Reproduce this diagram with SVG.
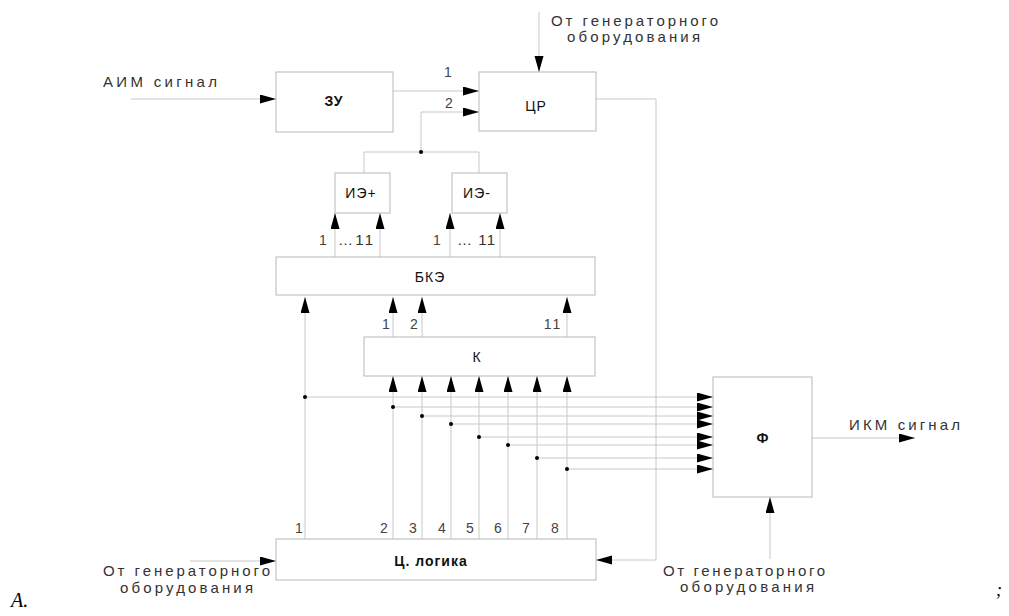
<svg xmlns="http://www.w3.org/2000/svg" width="1009" height="616" viewBox="0 0 1009 616">
<style>
.box{fill:#fff;stroke:#b8b8b8;stroke-width:1}
.ln{fill:none;stroke:#c8c8c8;stroke-width:1}
.arr{fill:none;stroke:#c8c8c8;stroke-width:1;marker-end:url(#ah)}
.t{font-family:"Liberation Sans",Arial,sans-serif;font-size:15px;fill:#333}
.lbl{font-family:"Liberation Sans",Arial,sans-serif;font-size:14px;fill:#111;text-anchor:middle;dominant-baseline:central;letter-spacing:1px}
.num{font-family:"Liberation Sans",Arial,sans-serif;font-size:14px;fill:#444;text-anchor:middle}
.dot{fill:#000}
</style>
<defs>
<marker id="ah" markerUnits="userSpaceOnUse" markerWidth="17" markerHeight="10" refX="16" refY="4.5" orient="auto">
<path d="M0,0 L16,4.5 L0,9 z" fill="#000"/>
</marker>
</defs>
<rect width="1009" height="616" fill="#fff"/>

<g id="connectors">
<line class="arr" x1="131" y1="99" x2="276" y2="99"/>
<line class="arr" x1="393" y1="91" x2="479" y2="91"/>
<line class="arr" x1="539" y1="12" x2="539" y2="72"/>
<polyline class="arr" points="421,152 421,112 479,112"/>
<polyline class="ln" points="364,173 364,152 479,152 479,173"/>
<circle class="dot" cx="421" cy="152" r="2"/>
<line class="arr" x1="335" y1="257" x2="335" y2="213"/>
<line class="arr" x1="380" y1="257" x2="380" y2="213"/>
<line class="arr" x1="450" y1="257" x2="450" y2="213"/>
<line class="arr" x1="500" y1="257" x2="500" y2="213"/>
<line class="arr" x1="393" y1="337" x2="393" y2="297"/>
<line class="arr" x1="422" y1="337" x2="422" y2="297"/>
<line class="arr" x1="567" y1="337" x2="567" y2="297"/>
<line class="arr" x1="305" y1="539" x2="305" y2="297"/>
<line class="arr" x1="393" y1="539" x2="393" y2="376"/>
<line class="arr" x1="422" y1="539" x2="422" y2="376"/>
<line class="arr" x1="451" y1="539" x2="451" y2="376"/>
<line class="arr" x1="479" y1="539" x2="479" y2="376"/>
<line class="arr" x1="508" y1="539" x2="508" y2="376"/>
<line class="arr" x1="537" y1="539" x2="537" y2="376"/>
<line class="arr" x1="567" y1="539" x2="567" y2="376"/>
<line class="arr" x1="305" y1="397" x2="713" y2="397"/>
<line class="arr" x1="393" y1="407" x2="713" y2="407"/>
<line class="arr" x1="422" y1="416" x2="713" y2="416"/>
<line class="arr" x1="451" y1="424" x2="713" y2="424"/>
<line class="arr" x1="479" y1="437" x2="713" y2="437"/>
<line class="arr" x1="508" y1="445" x2="713" y2="445"/>
<line class="arr" x1="537" y1="458" x2="713" y2="458"/>
<line class="arr" x1="567" y1="469" x2="713" y2="469"/>
<circle class="dot" cx="305" cy="397" r="2"/>
<circle class="dot" cx="393" cy="407" r="2"/>
<circle class="dot" cx="422" cy="416" r="2"/>
<circle class="dot" cx="451" cy="424" r="2"/>
<circle class="dot" cx="479" cy="437" r="2"/>
<circle class="dot" cx="508" cy="445" r="2"/>
<circle class="dot" cx="537" cy="458" r="2"/>
<circle class="dot" cx="567" cy="469" r="2"/>
<polyline class="arr" points="596,99 656,99 656,560 596,560"/>
<line class="arr" x1="812" y1="438" x2="915" y2="438"/>
<line class="arr" x1="770" y1="559" x2="770" y2="497"/>
<line class="arr" x1="190" y1="561" x2="276" y2="561"/>
</g>

<g id="zu"><rect class="box" x="276" y="72" width="117" height="60"/><text class="lbl" x="334" y="101" font-weight="bold">ЗУ</text></g>
<g id="cr"><rect class="box" x="479" y="72" width="117" height="59"/><text class="lbl" x="536" y="106" font-size="15">ЦР</text></g>
<g id="ie-plus"><rect class="box" x="335" y="173" width="55" height="40"/><text class="lbl" x="361" y="193">ИЭ+</text></g>
<g id="ie-minus"><rect class="box" x="452" y="173" width="55" height="40"/><text class="lbl" x="477" y="193">ИЭ-</text></g>
<g id="bke"><rect class="box" x="276" y="257" width="319" height="38"/><text class="lbl" x="430" y="277">БКЭ</text></g>
<g id="k"><rect class="box" x="364" y="337" width="231" height="39"/><text class="lbl" x="477" y="357">К</text></g>
<g id="f"><rect class="box" x="713" y="377" width="99" height="120"/><text class="lbl" x="763" y="438" font-weight="bold">Ф</text></g>
<g id="logic"><rect class="box" x="276" y="539" width="320" height="41"/><text class="lbl" x="431" y="561" font-weight="bold" font-size="17" letter-spacing="1.5">Ц. логика</text></g>

<g id="labels">
<text class="t" x="103" y="87" textLength="114" lengthAdjust="spacing">АИМ сигнал</text>
<text class="num" x="448" y="77">1</text>
<text class="num" x="449" y="108">2</text>
<text class="t" x="551" y="26" font-size="14" textLength="167" lengthAdjust="spacing">От генераторного</text>
<text class="t" x="567" y="42" font-size="14" textLength="133" lengthAdjust="spacing">оборудования</text>
<text class="num" x="323" y="245">1</text>
<text class="t" x="338" y="245" font-size="14" textLength="35" lengthAdjust="spacing">…11</text>
<text class="num" x="437" y="245">1</text>
<text class="t" x="457" y="245" font-size="14" textLength="38" lengthAdjust="spacing">… 11</text>
<text class="num" x="386" y="329">1</text>
<text class="num" x="414" y="329">2</text>
<text class="num" x="553" y="329" letter-spacing="2">11</text>
<text class="t" x="849" y="430" textLength="111" lengthAdjust="spacing">ИКМ сигнал</text>
<text class="num" x="299" y="533">1</text>
<text class="num" x="384" y="533">2</text>
<text class="num" x="413" y="533">3</text>
<text class="num" x="442" y="533">4</text>
<text class="num" x="470" y="533">5</text>
<text class="num" x="498" y="533">6</text>
<text class="num" x="526" y="533">7</text>
<text class="num" x="555" y="533">8</text>
<text class="t" x="103" y="576" textLength="167" lengthAdjust="spacing">От генераторного</text>
<text class="t" x="120" y="593" textLength="133" lengthAdjust="spacing">оборудования</text>
<text class="t" x="663" y="576" textLength="162" lengthAdjust="spacing">От генераторного</text>
<text class="t" x="680" y="592" textLength="134" lengthAdjust="spacing">оборудования</text>
<text x="11" y="607" font-family="Liberation Serif,serif" font-style="italic" font-size="20" fill="#000">A.</text>
<text x="996" y="596" font-family="Liberation Serif,serif" font-style="italic" font-size="18" fill="#000">;</text>
</g>
</svg>
